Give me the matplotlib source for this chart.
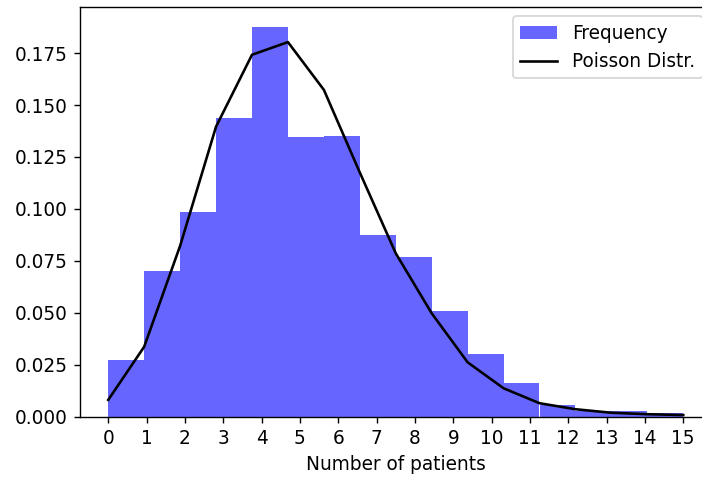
import numpy as np
import matplotlib
matplotlib.use("Agg")
import matplotlib.pyplot as plt

plt.rcParams["font.size"] = 10.7

# Histogram of patient counts (density) over 16 equal bins spanning 0..15
bin_edges = np.linspace(0, 15, 17)
frequency = [0.0272, 0.0701, 0.0987, 0.1437, 0.1878, 0.1345, 0.1353, 0.0875,
             0.0770, 0.0508, 0.0300, 0.0163, 0.0055, 0.0028, 0.0027, 0.0018]

# Fitted Poisson probabilities, one per bin edge
poisson_pmf = [0.0080, 0.0336, 0.0822, 0.1396, 0.1742, 0.1803, 0.1573, 0.1175,
               0.0786, 0.0497, 0.0261, 0.0136, 0.0064, 0.0035, 0.0018, 0.0011,
               0.0007]

x_ticks = list(range(16))

fig = plt.figure(figsize=(702 / 125, 479 / 125), dpi=125)
# axes run slightly past the right edge of the canvas
ax = fig.add_axes([79.5 / 702, 1 - 416.5 / 479, (712 - 79.5) / 702, (416.5 - 7) / 479])

centers = (bin_edges[:-1] + bin_edges[1:]) / 2
ax.hist(centers, bins=bin_edges, weights=frequency, color="b", alpha=0.6,
        label="Frequency")
ax.plot(bin_edges, poisson_pmf, color="k", label="Poisson Distr.")

ax.set_xticks(x_ticks)
ax.set_xlim(-0.75, 15.75)
ax.set_ylim(0, 0.1972)
ax.set_xlabel("Number of patients")
ax.legend(loc="upper right")

fig.savefig("out.png", dpi=125)
